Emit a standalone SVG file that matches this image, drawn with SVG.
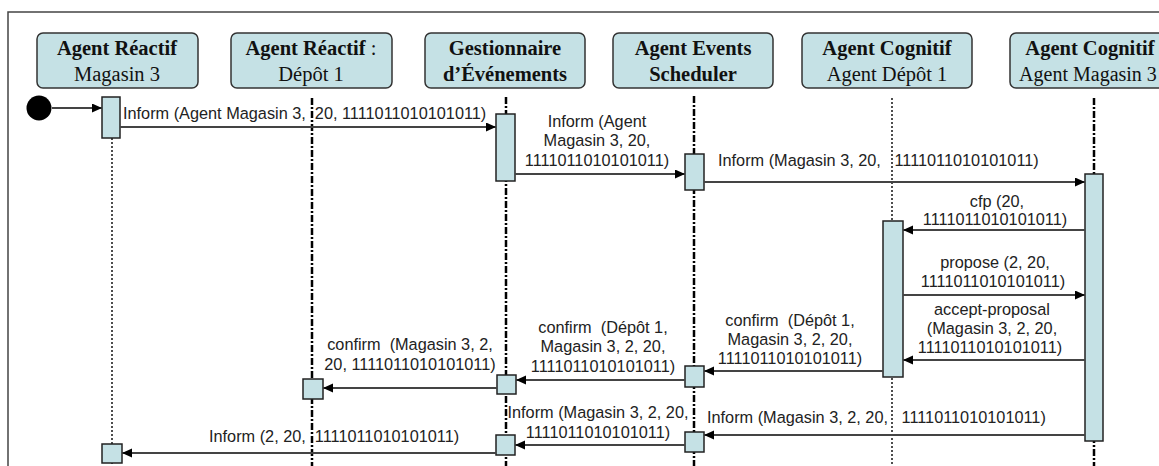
<svg xmlns="http://www.w3.org/2000/svg" width="1159" height="466" viewBox="0 0 1159 466">
<defs>
<marker id="ah" markerUnits="userSpaceOnUse" markerWidth="11" markerHeight="10" refX="10" refY="4.5" orient="auto">
<path d="M0,0 L10,4.5 L0,9 z" fill="#000"/>
</marker>
<style>
.hdr{fill:#c5e1e5;stroke:#333;stroke-width:1.5}
.act{fill:#c5e1e5;stroke:#222;stroke-width:1.5}
.ht{font-family:"Liberation Serif","Times New Roman",serif;font-size:20.5px;fill:#111;text-anchor:middle}
.b{font-weight:bold}
.mt{font-family:"Liberation Sans",Arial,sans-serif;font-size:16.3px;fill:#222;white-space:pre}
.c{text-anchor:middle}
.msg{stroke:#444;stroke-width:2;fill:none;marker-end:url(#ah)}
.dd{stroke:#000;stroke-width:2.5;stroke-dasharray:7 2 2 2;fill:none}
.dot{stroke:#222;stroke-width:1.6;stroke-dasharray:2 2;fill:none}
</style>
</defs>
<rect x="0" y="0" width="1159" height="466" fill="#fff"/>
<path d="M8,466 L8,12 L1159,12" fill="none" stroke="#444" stroke-width="1.5"/>

<g id="lifelines">
<line class="dot" x1="112" y1="138" x2="112" y2="466"/>
<line class="dd" x1="312" y1="98" x2="312" y2="466"/>
<line class="dd" x1="506" y1="97" x2="506" y2="466"/>
<line class="dd" x1="694" y1="96" x2="694" y2="466"/>
<line class="dot" x1="892" y1="98" x2="892" y2="466"/>
<line class="dd" x1="1094" y1="98" x2="1094" y2="466"/>
</g>

<g id="n1"><rect class="hdr" x="37" y="33" width="161" height="55" rx="6"/><text class="ht b" x="117" y="55">Agent Réactif</text><text class="ht" x="117" y="81">Magasin 3</text></g>
<g id="n2"><rect class="hdr" x="231" y="33" width="161" height="55" rx="6"/><text class="ht" x="311" y="55"><tspan class="b">Agent Réactif</tspan> :</text><text class="ht" x="311" y="81">Dépôt 1</text></g>
<g id="n3"><rect class="hdr" x="425" y="33" width="160" height="55" rx="6"/><text class="ht b" x="505" y="55">Gestionnaire</text><text class="ht b" x="505" y="81">d’Événements</text></g>
<g id="n4"><rect class="hdr" x="613" y="33" width="160" height="55" rx="6"/><text class="ht b" x="693" y="55">Agent Events</text><text class="ht b" x="693" y="81">Scheduler</text></g>
<g id="n5"><rect class="hdr" x="802" y="33" width="170" height="55" rx="6"/><text class="ht b" x="887" y="55">Agent Cognitif</text><text class="ht" x="887" y="81">Agent Dépôt 1</text></g>
<g id="n6"><rect class="hdr" x="1010" y="33" width="170" height="55" rx="6"/><text class="ht b" x="1090" y="55">Agent Cognitif</text><text class="ht" x="1088" y="81" style="font-size:20px">Agent Magasin 3</text></g>

<g id="start"><circle cx="39" cy="108" r="12.5" fill="#000"/></g>

<g id="activations">
<rect class="act" x="102" y="97" width="18" height="41"/>
<rect class="act" x="496" y="114" width="19" height="67"/>
<rect class="act" x="685" y="154" width="19" height="36"/>
<rect class="act" x="1085" y="174" width="18" height="267"/>
<rect class="act" x="883" y="221" width="20" height="156"/>
<rect class="act" x="685" y="366" width="19" height="21"/>
<rect class="act" x="497" y="375" width="19" height="19"/>
<rect class="act" x="303" y="379" width="20" height="20"/>
<rect class="act" x="685" y="432" width="19" height="20"/>
<rect class="act" x="496" y="435" width="19" height="20"/>
<rect class="act" x="102" y="444" width="20" height="19"/>
</g>

<g id="connectors">
<line class="msg" x1="52" y1="108" x2="102" y2="108"/>
<line class="msg" x1="120" y1="127" x2="496" y2="127"/>
<line class="msg" x1="515" y1="174" x2="685" y2="174"/>
<line class="msg" x1="704" y1="182" x2="1085" y2="182"/>
<line class="msg" x1="1085" y1="230" x2="903" y2="230"/>
<line class="msg" x1="903" y1="295" x2="1085" y2="295"/>
<line class="msg" x1="1085" y1="360" x2="903" y2="360"/>
<line class="msg" x1="883" y1="371" x2="704" y2="371"/>
<line class="msg" x1="685" y1="380" x2="516" y2="380"/>
<line class="msg" x1="497" y1="388" x2="323" y2="388"/>
<line class="msg" x1="1085" y1="435" x2="704" y2="435"/>
<line class="msg" x1="685" y1="445" x2="515" y2="445"/>
<line class="msg" x1="496" y1="453" x2="122" y2="453"/>
</g>

<g id="labels">
<text class="mt" x="123" y="119">Inform (Agent Magasin 3,  20, 1111011010101011)</text>
<text class="mt c" x="597" y="127">Inform (Agent</text>
<text class="mt c" x="597" y="146">Magasin 3, 20,</text>
<text class="mt c" x="597" y="166">1111011010101011)</text>
<text class="mt" x="718" y="166">Inform (Magasin 3, 20,   1111011010101011)</text>
<text class="mt c" x="997" y="207">cfp (20,</text>
<text class="mt c" x="995" y="225">1111011010101011)</text>
<text class="mt c" x="995" y="268">propose (2, 20,</text>
<text class="mt c" x="993" y="287">1111011010101011)</text>
<text class="mt c" x="992" y="315">accept-proposal</text>
<text class="mt c" x="992" y="334">(Magasin 3, 2, 20,</text>
<text class="mt c" x="990" y="353">1111011010101011)</text>
<text class="mt c" x="790" y="326">confirm  (Dépôt 1,</text>
<text class="mt c" x="790" y="345">Magasin 3, 2, 20,</text>
<text class="mt c" x="790" y="364">1111011010101011)</text>
<text class="mt c" x="603" y="333">confirm  (Dépôt 1,</text>
<text class="mt c" x="603" y="352">Magasin 3, 2, 20,</text>
<text class="mt c" x="603" y="372">1111011010101011)</text>
<text class="mt c" x="410" y="350">confirm  (Magasin 3, 2,</text>
<text class="mt c" x="410" y="370">20, 1111011010101011)</text>
<text class="mt" x="707" y="423">Inform (Magasin 3, 2, 20,   1111011010101011)</text>
<text class="mt c" x="598" y="418">Inform (Magasin 3, 2, 20,</text>
<text class="mt c" x="598" y="438">1111011010101011)</text>
<text class="mt" x="209" y="442">Inform (2, 20,  1111011010101011)</text>
</g>
</svg>
